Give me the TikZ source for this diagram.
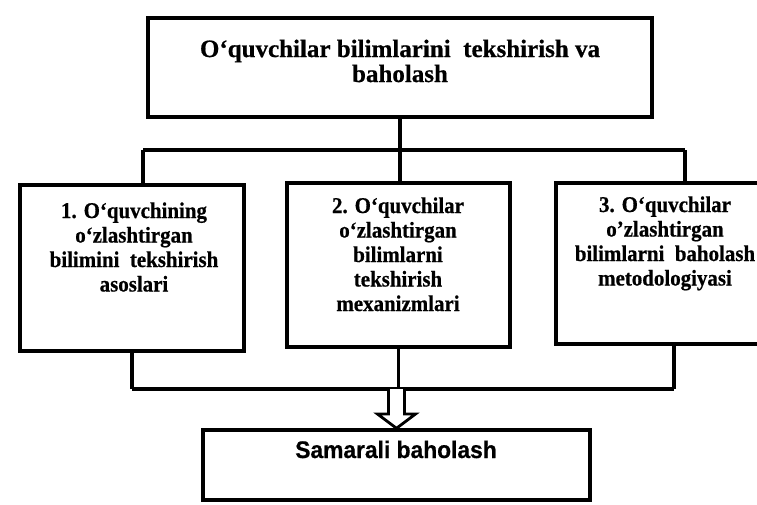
\documentclass[tikz,border=0pt]{standalone}
\usepackage{fontspec}
\setmainfont{Liberation Serif}
\newfontfamily\boxfont[FakeStretch=0.93, FakeBold=0.6]{Liberation Serif}
\newfontfamily\headfont[FakeBold=0.6]{Liberation Serif}
\newfontfamily\sansbold[FakeStretch=0.95, FakeBold=0.6]{Liberation Sans}
\usetikzlibrary{calc,positioning}

\begin{document}
\begin{tikzpicture}[x=1pt, y=-1pt,
    box/.style={draw, line width=3.5pt, inner sep=0pt},
    link/.style={line width=3.2pt},
    lbl/.style={anchor=base, inner sep=0pt, font=\boxfont\bfseries\fontsize{22.5}{24.5}\selectfont},
    headlbl/.style={anchor=base, inner sep=0pt, font=\headfont\bfseries\fontsize{25}{25}\selectfont}]

  \useasboundingbox (0,0) rectangle (757,504);
  \clip (0,0) rectangle (757,504);

  \node[box, minimum width=504pt, minimum height=99pt] (top) at (400,67.5) {};
  \node[box, minimum width=224pt, minimum height=166pt] (box1) at (132,268) {};
  \node[box, minimum width=223pt, minimum height=164pt] (box2) at (398.5,265) {};
  \node[box, minimum width=248pt, minimum height=161pt] (box3) at (680,263.5) {};
  \node[box, minimum width=387pt, minimum height=70pt] (result) at (396.5,465) {};

  \node[headlbl] (toptxt) at (400,57)
    {\begin{tabular}[t]{@{}c@{}}O‘quvchilar bilimlarini\ \ tekshirish va\\baholash\end{tabular}};
  \node[lbl] (txt1) at (134,218)
    {\begin{tabular}[t]{@{}c@{}}1. O‘quvchining\\o‘zlashtirgan\\bilimini\ \ tekshirish\\asoslari\end{tabular}};
  \node[lbl] (txt2) at (398,213)
    {\begin{tabular}[t]{@{}c@{}}2. O‘quvchilar\\o‘zlashtirgan\\bilimlarni\\tekshirish\\mexanizmlari\end{tabular}};
  \node[lbl] (txt3) at (665,212)
    {\begin{tabular}[t]{@{}c@{}}3. O‘quvchilar\\o’zlashtirgan\\bilimlarni\ \ baholash\\metodologiyasi\end{tabular}};
  \node[anchor=base, inner sep=0pt, font=\sansbold\bfseries\fontsize{24}{26}\selectfont]
    (restxt) at (396,458) {Samarali baholash};

  % upper bus
  \coordinate (busL) at (143,150);
  \coordinate (busR) at (685,150);
  \draw[link] (top.south) -- (top.south |- box2.north);
  \draw[link] (busL) -- (busR);
  \draw[link] (busL) -- (busL |- box1.north);
  \draw[link] (busR) -- (busR |- box3.north);

  % lower bus
  \coordinate (lowL) at (132,389);
  \coordinate (lowR) at (674,389);
  \draw[link] (box1.south) -- (lowL);
  \draw[link] (box2.south) -- (box2.south |- lowL);
  \draw[link] (lowR |- box3.south) -- (lowR);
  \draw[link] (lowL) -- (lowR);

  % hollow arrow
  \coordinate (arr) at (result.north |- lowL);
  \draw[line width=2.8pt, fill=white, line join=miter]
    ($(arr)+(-8,0)$) -- ++(0,25) -- ++(-11,0) -- (result.north)
    -- ($(arr)+(19,25)$) -- ++(-11,0) -- ($(arr)+(8,0)$);
\end{tikzpicture}
\end{document}
